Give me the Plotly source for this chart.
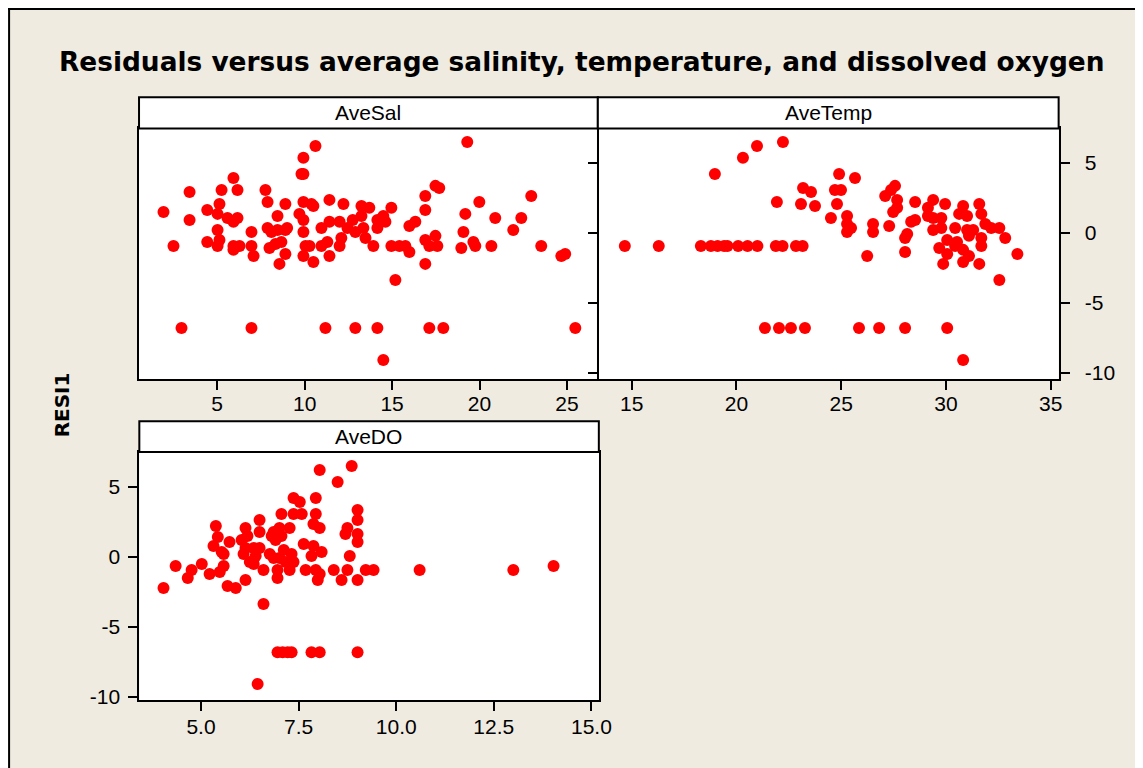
import plotly.graph_objects as go

# Page body has an 8px margin; the capture also comes out ~1.1% smaller than page
# pixels, so reference pixel positions are mapped through a small scale factor.
OFF = 8
S = 1.011
W, H = 1150, 772

# ---------------- data ----------------
sal_x = [1.93, 2.5, 3.42, 3.42, 2.96, 4.43, 4.43, 5.02, 5.13, 5.25, 5.02, 5.13, 5.02,
         5.93, 6.16, 5.59, 5.93, 6.16, 5.93, 5.93, 6.28, 6.96, 6.96, 7.08, 6.96,
         7.76, 7.88, 8.45, 8.9, 7.88, 8.1, 8.45, 8.9, 9.0, 7.99, 8.33, 8.67, 8.9, 8.56,
         9.93, 10.62, 9.82, 9.93, 9.93, 10.39, 10.5, 9.7, 9.93, 9.93, 10.05, 10.28, 9.93, 10.5,
         11.42, 10.96, 11.42, 12.0, 12.22, 10.96, 11.3, 11.42, 12.0, 12.1, 11.19,
         12.45, 12.75, 12.9, 13.25, 13.25, 13.36, 13.7, 13.48, 13.93, 12.9,
         14.16, 14.16, 14.5, 14.62, 14.96, 14.16, 14.5, 14.96, 15.42, 15.76, 15.99, 15.19,
         15.99, 16.33, 16.9, 16.9, 17.48, 17.7, 16.9, 17.13, 17.48, 17.59, 16.9, 17.13, 17.93,
         19.3, 19.19, 19.99, 19.08, 19.65, 19.76, 18.96, 20.68, 20.9, 21.93, 22.39, 22.96,
         23.53, 24.68, 24.9, 25.48]
sal_resid = [1.5, -0.93, 2.93, 0.93, -6.79, 1.64, -0.64, 1.36, 2.07, 3.07, 0.21, -0.5, -0.93,
             3.93, 3.07, 1.07, 0.79, 1.07, -1.21, -0.93, -0.93, 0.07, -0.93, -1.64, -6.79,
             3.07, 2.21, 1.21, 2.07, 0.36, 0.07, 0.21, 0.21, 0.36, -1.07, -0.79, -0.64, -1.5, -2.21,
             5.36, 6.21, 4.21, 4.21, 2.21, 2.07, 1.93, 1.36, 0.93, 0.07, -0.93, -0.93, -1.64, -2.07,
             2.36, 0.36, 0.79, 0.79, 2.07, -0.93, -0.64, -1.64, -0.93, -0.36, -6.79,
             0.36, 0.93, 0.07, 1.93, 1.21, 0.36, 1.79, -0.36, -0.93, -6.79,
             0.93, 0.36, 1.21, 0.79, 1.79, -6.79, -9.07, -0.93, -0.93, -0.93, -1.36, -3.36,
             0.5, 0.79, 2.64, 1.64, 3.36, 3.21, -0.5, -0.93, -0.21, -0.93, -2.21, -6.79, -6.79,
             6.5, 1.36, 2.21, 0.07, -0.64, -0.93, -1.07, -0.93, 1.07, 0.21, 1.07, 2.64,
             -0.93, -1.64, -1.5, -6.79]

temp_x = [14.67, 16.29, 18.3, 18.78, 19.1, 19.41, 19.57, 20.08, 20.53, 21.0, 21.88, 22.2,
          22.84, 23.16, 18.97, 20.31, 20.98, 22.22, 21.93, 21.36, 22.03, 22.6, 23.27,
          23.18, 23.56, 23.08, 23.75, 24.9, 25.66, 24.7, 24.99, 24.8, 24.51, 25.28, 25.28,
          25.47, 25.28, 26.24, 26.52, 26.52, 25.85, 26.81, 27.29, 27.1, 27.38, 27.57, 27.67,
          27.48, 27.67, 28.05, 28.05, 28.05, 28.15, 28.53, 28.34, 28.53, 29.39, 29.14, 29.96,
          29.14, 29.39, 29.78, 29.39, 29.78, 29.68, 30.06, 29.87, 30.06, 30.06, 30.44, 30.63,
          30.82, 31.01, 31.01, 31.3, 30.53, 30.82, 31.1, 30.82, 30.82, 31.59, 31.69, 31.88,
          31.69, 31.69, 31.59, 32.16, 32.55, 32.83, 32.55, 33.41, 30.44, 31.1]
temp_resid = [-0.93, -0.93, -0.93, -0.93, -0.93, -0.93, -0.93, -0.93, -0.93, -0.93, -0.93, -0.93,
              -0.93, -0.93, 4.21, 5.36, 6.21, 6.5, 2.21, -6.79, -6.79, -6.79, -6.79,
              3.21, 2.93, 2.07, 1.93, 4.21, 3.93, 3.07, 3.07, 2.07, 1.07, 1.21, 0.64,
              0.36, 0.07, -1.64, 0.64, 0.07, -6.79, -6.79, 0.5, 2.64, 3.07, 3.36, 2.36,
              1.5, 1.79, -6.79, -1.36, -0.36, -0.07, 2.21, 0.79, 0.93, 2.36, 1.79, 2.07,
              1.21, 1.07, 1.07, 0.21, 0.36, -1.07, -0.5, -2.21, -6.79, -1.5, 0.36, 1.36,
              1.93, 1.21, 0.21, 0.21, -0.64, -1.21, -1.64, -2.07, -9.07, 2.07, 1.36, 0.64,
              -0.36, -0.93, -2.21, 0.36, 0.36, -0.36, -3.36, -1.5, -0.93, -0.21]

do_x = [4.04, 4.35, 4.66, 4.76, 5.02, 5.22, 5.32, 5.38, 5.43, 5.48, 5.53, 5.58, 5.58, 5.68,
        5.73, 5.89, 6.04, 6.09, 6.14, 6.14, 6.19, 6.14, 6.25, 6.35, 6.4, 6.35, 6.5, 6.5, 6.5,
        6.6, 6.6, 6.45, 6.76, 6.81, 6.86, 6.91, 6.96, 6.96, 7.01, 7.06, 7.06, 7.01, 7.12,
        7.17, 7.27, 7.27, 7.32, 7.37, 7.53, 7.37, 7.58, 7.37, 7.63, 7.68, 7.83, 7.88, 7.94,
        7.94, 7.88, 8.04, 8.04, 7.94, 7.99, 8.09, 8.04, 8.4, 8.5, 8.6, 8.7, 8.75, 8.75, 8.81,
        8.86, 9.01, 9.01, 9.01, 9.01, 9.01, 9.22, 9.42, 10.6, 13.0, 14.03, 6.96, 7.09, 7.32,
        7.83, 8.04, 9.01, 7.22, 6.86]
do_resid = [-2.21, -0.64, -1.5, -0.93, -0.5, -1.21, 0.79, 2.21, 1.43, -1.07, 0.36, 0.21, -0.64,
            -2.07, 1.07, -2.21, 1.21, 0.21, 2.07, -1.64, 1.5, 0.64, -0.36, 0.64, 0.07, -0.5,
            2.64, 1.79, 0.64, -0.93, -3.36, -9.07, 0.21, 1.5, 1.79, 1.21, -1.5, -0.93, 2.07,
            3.07, 1.5, -0.07, 0.5, -0.36, 2.07, -0.93, 0.21, 4.21, 3.93, 3.07, 3.07, -0.36,
            0.93, -0.93, 0.07, 0.79, 4.21, 3.07, 2.36, 2.07, 6.21, -0.93, -1.64, 0.36, -1.21,
            -0.93, 5.36, -1.64, 1.64, 2.07, -0.93, 0.07, 6.5, 3.36, 2.64, 1.64, 1.07, -1.64,
            -0.93, -0.93, -0.93, -0.93, -0.64, -6.79, -6.79, -6.79, -6.79, -6.79, -6.79, -6.79,
            -0.07]

panel_titles = ["AveSal", "AveTemp", "AveDO"]
title_text = "Residuals versus average salinity, temperature, and dissolved oxygen"
y_title = "RESI1"

sal_ticks = [5, 10, 15, 20, 25]
temp_ticks = [15, 20, 25, 30, 35]
do_ticks = [5.0, 7.5, 10.0, 12.5, 15.0]
do_ticktext = ["5.0", "7.5", "10.0", "12.5", "15.0"]
resid_ticks = [-10, -5, 0, 5]
resid_ticktext = ["-10", "-5", "0", "5"]

# ---------------- layout helpers (reference pixels -> paper) ----------------
def px(x):
    return (x * S - OFF) / W

def py(y):
    return 1 - (y * S - OFF) / H

RED = "#FF0000"
BG = "#EFEBE0"
FONT = "Liberation Sans, Arial, sans-serif"

fig = go.Figure()
for xs, ys, xa, ya in [(sal_x, sal_resid, "x", "y"),
                       (temp_x, temp_resid, "x2", "y2"),
                       (do_x, do_resid, "x3", "y3")]:
    fig.add_trace(go.Scatter(x=xs, y=ys, mode="markers", xaxis=xa, yaxis=ya,
                             marker=dict(color=RED, size=12, line=dict(width=0)),
                             showlegend=False, hoverinfo="skip"))

axis_common = dict(showline=True, linewidth=2, linecolor="black", showgrid=False,
                   zeroline=False, ticks="outside", ticklen=9, tickwidth=2,
                   tickcolor="black", tickfont=dict(family=FONT, size=21, color="black"))

row1 = [py(379), py(128.3)]
row2 = [py(700), py(451.7)]

fig.update_layout(
    width=W, height=H, autosize=False,
    margin=dict(l=0, r=0, t=0, b=0),
    paper_bgcolor=BG, plot_bgcolor="white",
    xaxis=dict(domain=[px(139), px(597)], anchor="y", range=[0.53, 26.71],
               tickvals=sal_ticks, mirror=True, ticklabelstandoff=-4, **axis_common),
    yaxis=dict(domain=row1, anchor="x", range=[-10.45, 7.46],
               **{**axis_common, "ticks": "", "showticklabels": False}, mirror=True),
    xaxis2=dict(domain=[px(599), px(1059)], anchor="y2", range=[13.43, 35.38],
                tickvals=temp_ticks, mirror=True, ticklabelstandoff=-4, **axis_common),
    yaxis2=dict(domain=row1, anchor="x2", side="right", range=[-10.45, 7.46],
                tickvals=resid_ticks, ticktext=resid_ticktext, mirror="ticks",
                ticklabelstandoff=11, **axis_common),
    xaxis3=dict(domain=[px(139.3), px(599)], anchor="y3", range=[3.42, 15.19],
                tickvals=do_ticks, ticktext=do_ticktext, mirror=True,
                ticklabelstandoff=-3, **axis_common),
    yaxis3=dict(domain=row2, anchor="x3", range=[-10.24, 7.5],
                tickvals=resid_ticks, ticktext=resid_ticktext, mirror=True,
                ticklabelstandoff=4, **axis_common),
)

shapes = []
# strip headers
for x0, x1, y0, y1 in [(139, 598, 97, 128.3), (598, 1059, 97, 128.3), (139.3, 599, 421, 451.7)]:
    shapes.append(dict(type="rect", xref="paper", yref="paper",
                       x0=px(x0), x1=px(x1), y0=py(y1), y1=py(y0),
                       fillcolor="white", line=dict(color="black", width=2)))
# outer border (top and left)
shapes.append(dict(type="line", xref="paper", yref="paper", x0=0, x1=1, y0=py(9), y1=py(9),
                   line=dict(color="black", width=2)))
shapes.append(dict(type="line", xref="paper", yref="paper", x0=px(9), x1=px(9), y0=py(9), y1=0,
                   line=dict(color="black", width=2)))
fig.update_layout(shapes=shapes)

annotations = []
for name, cx, cy in [(panel_titles[0], 368.5, 112.5), (panel_titles[1], 828.5, 112.5),
                     (panel_titles[2], 369, 436.5)]:
    annotations.append(dict(text=name, xref="paper", yref="paper", x=px(cx), y=py(cy),
                            xanchor="center", yanchor="middle", showarrow=False,
                            font=dict(family=FONT, size=21, color="black")))
annotations.append(dict(text="<b>" + title_text + "</b>", xref="paper", yref="paper",
                        x=px(582.5), y=py(61), xanchor="center", yanchor="middle",
                        showarrow=False,
                        font=dict(family="DejaVu Sans, Verdana, sans-serif", size=26.4, color="black")))
annotations.append(dict(text="<b>" + y_title + "</b>", xref="paper", yref="paper",
                        x=px(62), y=py(405), xanchor="center", yanchor="middle",
                        showarrow=False, textangle=-90,
                        font=dict(family="DejaVu Sans, Verdana, sans-serif", size=20, color="black")))
fig.update_layout(annotations=annotations)

fig.write_html("out.html")
